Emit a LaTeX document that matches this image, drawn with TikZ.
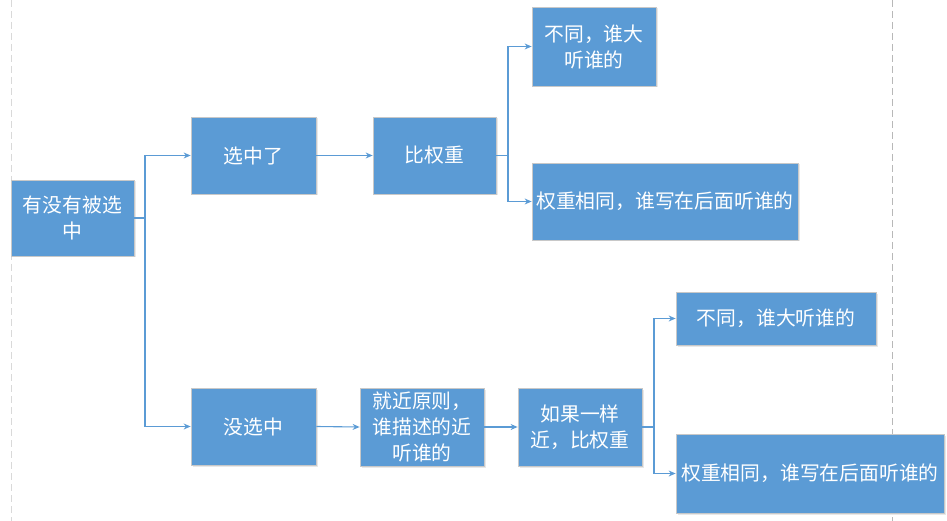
\documentclass[tikz,border=0pt]{standalone}
\usepackage{fontspec}
\newfontfamily\cjk{Noto Sans CJK SC}
\usetikzlibrary{arrows.meta,shadows}
\definecolor{boxblue}{HTML}{5B9BD5}
\definecolor{boxedge}{HTML}{C8C8C8}
\definecolor{lineblue}{HTML}{5B9BD5}
\begin{document}
\begin{tikzpicture}[x=1pt,y=-1pt,
  box/.style={draw=boxedge, line width=0.8pt, fill=boxblue, text=white, align=center,
    inner sep=0pt, font=\cjk\fontsize{19.8}{26}\selectfont,
    drop shadow={opacity=0.18, shadow xshift=1.5pt, shadow yshift=-1.5pt}},
  conn/.style={draw=lineblue, line width=1.1pt, -{Stealth[length=7pt,width=6pt]}},
  guide/.style={line width=1pt, dash pattern=on 7pt off 4pt}]
\useasboundingbox (0,0) rectangle (947,521);
\draw[guide, draw=black!15] (11,0) -- (11,521);
\draw[guide, draw=black!28] (892,0) -- (892,521);

\node[box, minimum width=123pt, minimum height=76pt] (A) at (72.5,218) {有没有被选\\中};
\node[box, minimum width=125pt, minimum height=77pt] (B) at (253.5,155.5) {选中了};
\node[box, minimum width=123pt, minimum height=77pt] (C) at (434.5,155.5) {比权重};
\node[box, minimum width=124pt, minimum height=79pt] (D) at (594,46.5) {不同，谁大\\听谁的};
\node[box, minimum width=266pt, minimum height=77pt] (E) at (665,201.5) {权重相同，谁写在后面听谁的};
\node[box, minimum width=125pt, minimum height=77pt] (F) at (253.5,426.5) {没选中};
\node[box, minimum width=124pt, minimum height=78pt] (G) at (422,427) {就近原则，\\谁描述的近\\听谁的};
\node[box, minimum width=124pt, minimum height=78pt] (H) at (580,427) {如果一样\\近，比权重};
\node[box, minimum width=200pt, minimum height=53pt] (I) at (776,318.5) {不同，谁大听谁的};
\node[box, minimum width=268pt, minimum height=79pt] (J) at (810,473.5) {权重相同，谁写在后面听谁的};

\coordinate (sA) at (145,218);
\coordinate (sC) at (508,155.5);
\coordinate (sH) at (654,427);

\draw[conn] (A.east) -- (sA) |- (B.west);
\draw[conn] (sA) |- (F.west);
\draw[conn] (B.east) -- (C.west);
\draw[conn] (C.east) -- (sC) |- (D.west);
\draw[conn] (sC) |- (E.west);
\draw[conn] (F.east) -- (G.west);
\draw[conn] (G.east) -- (H.west);
\draw[conn] (H.east) -- (sH) |- (I.west);
\draw[conn] (sH) |- (J.west);
\end{tikzpicture}
\end{document}
